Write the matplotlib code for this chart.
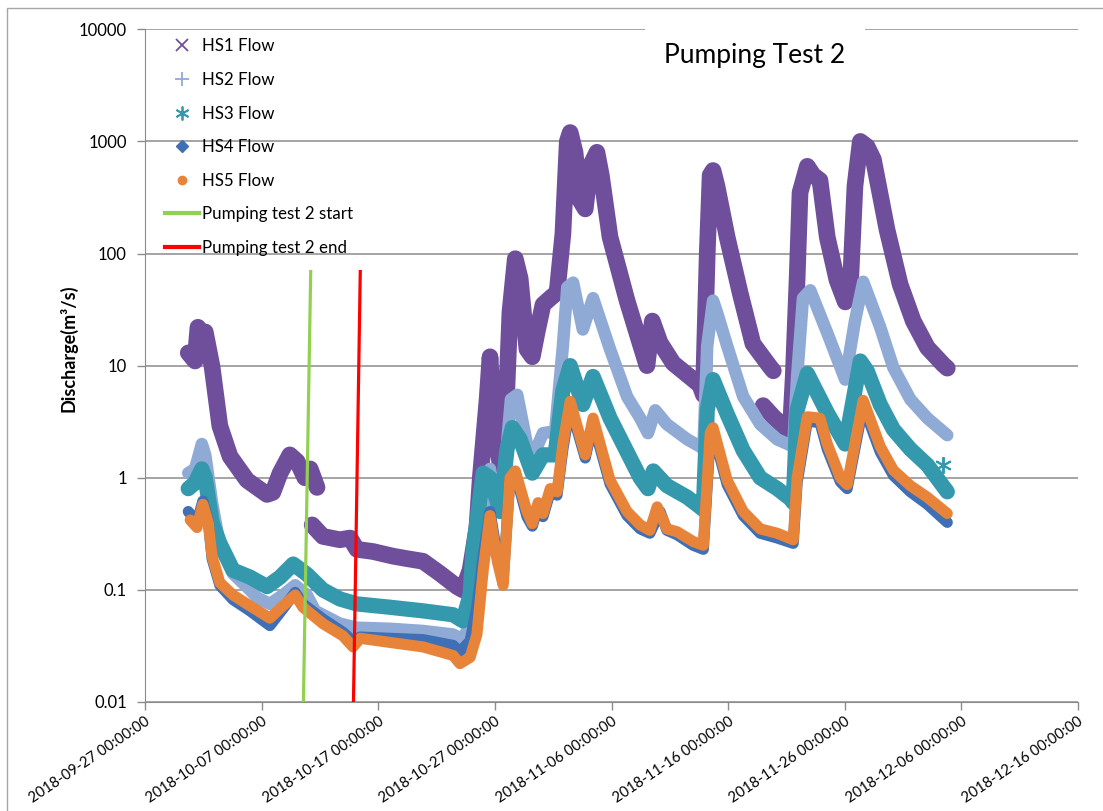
import matplotlib
matplotlib.use('Agg')
import matplotlib.pyplot as plt
from matplotlib.lines import Line2D
from matplotlib.patches import Rectangle
from matplotlib.ticker import FixedLocator, FixedFormatter, NullLocator
import pandas as pd

plt.rcParams['font.family'] = ['Lato', 'DejaVu Sans']

# ---- data (times are 2018, 'MM-DD HH') ----
hs1_a_time = ['09-30 17', '10-01 07', '10-01 13', '10-01 21', '10-02 04', '10-02 18', '10-03 10',
              '10-04 07', '10-05 18', '10-07 11', '10-07 23', '10-08 14', '10-09 10', '10-10 01',
              '10-10 17', '10-11 04', '10-11 18']
hs1_a_val = [13, 11, 22, 18, 20, 9.8, 2.9, 1.55, 0.95, 0.71, 0.74, 1.1, 1.6, 1.4, 1.0, 1.2, 0.82]

hs1_b_time = ['10-11 08', '10-12 06', '10-13 17', '10-14 14', '10-15 04', '10-16 13', '10-18 06',
              '10-19 11', '10-20 20', '10-22 07', '10-23 18', '10-24 06', '10-24 21', '10-25 11',
              '10-25 18', '10-26 08', '10-26 14', '10-26 22', '10-27 11', '10-27 19', '10-28 07',
              '10-28 18', '10-29 04', '10-29 18', '10-30 05', '10-30 15', '10-31 03', '10-31 18',
              '11-01 08', '11-01 20', '11-02 05', '11-02 11', '11-02 21', '11-03 07', '11-03 18',
              '11-04 04', '11-04 18', '11-05 03', '11-05 21', '11-07 08', '11-08 11', '11-09 01',
              '11-09 12', '11-10 04', '11-11 07', '11-12 12', '11-13 14', '11-13 21', '11-14 05',
              '11-14 11', '11-14 17', '11-15 01', '11-15 22', '11-17 01', '11-18 03', '11-19 14',
              '11-19 21']
hs1_b_val = [0.38, 0.30, 0.28, 0.29, 0.23, 0.22, 0.20, 0.19, 0.18, 0.14, 0.107, 0.10, 0.15, 0.36,
             1.0, 5, 12, 3, 1.3, 1.5, 30, 90, 60, 14, 12, 20, 35, 40, 45, 150, 1000, 1200, 800,
             300, 250, 600, 800, 500, 140, 38, 15.7, 10, 25, 16, 10.5, 8.3, 6.7, 5.5, 100, 500,
             550, 400, 140, 44, 15.7, 9.8, 9.0]

hs1_c_time = ['11-19 00', '11-19 21', '11-21 01', '11-21 08', '11-21 14', '11-21 22', '11-22 04',
              '11-22 19', '11-23 07', '11-23 21', '11-24 12', '11-25 08', '11-26 01', '11-26 11',
              '11-26 21', '11-27 08', '11-27 22', '11-28 11', '11-29 15', '11-30 18', '12-01 21',
              '12-03 02', '12-04 11', '12-04 19']
hs1_c_val = [4.4, 3.5, 2.7, 2.6, 8, 60, 350, 600, 500, 450, 140, 58, 37, 45, 400, 1000, 900, 690,
             163, 53, 25, 14.5, 10.2, 9.5]

hs2_time = ['09-30 17', '10-01 07', '10-01 21', '10-02 04', '10-02 18', '10-03 10', '10-04 13',
            '10-06 00', '10-06 15', '10-07 17', '10-08 20', '10-09 21', '10-10 21', '10-11 14',
            '10-13 17', '10-15 04', '10-18 00', '10-20 20', '10-23 10', '10-24 06', '10-24 21',
            '10-25 11', '10-26 00', '10-26 14', '10-26 22', '10-27 11', '10-28 01', '10-28 09',
            '10-28 22', '10-29 18', '10-30 05', '10-31 03', '11-01 04', '11-01 20', '11-02 05',
            '11-02 17', '11-03 13', '11-04 10', '11-05 21', '11-07 08', '11-08 11', '11-09 03',
            '11-09 18', '11-10 18', '11-12 12', '11-13 14', '11-13 21', '11-14 05', '11-14 17',
            '11-15 01', '11-15 22', '11-17 07', '11-18 18', '11-20 05', '11-21 14', '11-21 22',
            '11-22 10', '11-23 01', '11-24 12', '11-26 01', '11-26 21', '11-27 14', '11-29 01',
            '11-30 04', '12-01 15', '12-03 02', '12-04 19']
hs2_val = [1.1, 1.2, 2.0, 1.6, 0.6, 0.25, 0.14, 0.1, 0.085, 0.075, 0.09, 0.11, 0.09, 0.065, 0.05,
           0.046, 0.045, 0.043, 0.04, 0.036, 0.05, 0.1, 0.6, 1.2, 0.6, 0.5, 2, 5, 5.5, 2, 1.5, 2.5,
           2.6, 15, 50, 55, 21, 40, 14, 5.3, 3.4, 2.5, 4.0, 3.0, 2.2, 1.9, 1.8, 15, 38, 30, 15, 5.3,
           3.0, 2.2, 1.9, 8, 40, 47, 19.6, 7.5, 25, 56, 22, 9.6, 5.0, 3.4, 2.4]

hs3_time = ['09-30 17', '10-01 07', '10-01 21', '10-02 04', '10-02 18', '10-03 10', '10-04 13',
            '10-06 00', '10-07 11', '10-08 14', '10-09 17', '10-10 21', '10-12 06', '10-13 17',
            '10-15 04', '10-18 00', '10-20 20', '10-23 10', '10-24 06', '10-24 21', '10-25 03',
            '10-26 00', '10-26 14', '10-27 11', '10-28 01', '10-28 12', '10-29 04', '10-30 05',
            '10-31 03', '11-01 04', '11-01 20', '11-02 11', '11-03 13', '11-04 10', '11-05 21',
            '11-07 08', '11-08 11', '11-09 03', '11-09 14', '11-10 18', '11-12 12', '11-13 14',
            '11-13 21', '11-14 05', '11-14 17', '11-15 22', '11-17 07', '11-18 18', '11-20 05',
            '11-21 08', '11-21 14', '11-21 22', '11-22 19', '11-24 12', '11-26 01', '11-27 08',
            '11-27 22', '11-29 01', '11-30 04', '12-01 15', '12-03 02', '12-04 19']
hs3_val = [0.8, 0.9, 1.2, 1.0, 0.4, 0.26, 0.15, 0.13, 0.107, 0.13, 0.17, 0.138, 0.1, 0.083, 0.075,
           0.07, 0.065, 0.06, 0.053, 0.09, 0.22, 1.1, 1.0, 0.5, 1.8, 2.8, 2.2, 1.1, 1.6, 1.6, 6, 10,
           4.5, 8, 3.4, 1.7, 1.0, 0.8, 1.15, 0.85, 0.67, 0.55, 0.52, 4, 7.5, 3.7, 1.75, 1.0, 0.8,
           0.65, 0.6, 4, 8.5, 3.8, 2.0, 11, 9, 4.5, 2.7, 1.8, 1.3, 0.75]
hs3_extra_time = ['12-04 11']
hs3_extra_val = [1.3]

hs4_time = ['09-30 17', '10-01 11', '10-01 23', '10-02 10', '10-02 18', '10-03 10', '10-04 13',
            '10-06 00', '10-07 17', '10-08 20', '10-09 21', '10-10 13', '10-12 06', '10-13 23',
            '10-14 20', '10-15 11', '10-18 00', '10-20 20', '10-23 10', '10-24 00', '10-24 21',
            '10-25 11', '10-26 00', '10-26 14', '10-27 05', '10-27 17', '10-28 07', '10-28 18',
            '10-29 18', '10-30 05', '10-30 17', '10-31 03', '10-31 18', '11-01 08', '11-01 20',
            '11-02 11', '11-03 18', '11-04 10', '11-05 21', '11-07 08', '11-08 11', '11-09 07',
            '11-10 04', '11-10 18', '11-11 15', '11-13 00', '11-13 21', '11-14 11', '11-14 17',
            '11-15 22', '11-17 07', '11-18 18', '11-20 05', '11-21 14', '11-21 22', '11-22 19',
            '11-23 21', '11-24 12', '11-25 15', '11-26 05', '11-27 14', '11-29 01', '11-30 04',
            '12-01 15', '12-03 02', '12-04 19']
hs4_val = [0.5, 0.4, 0.62, 0.42, 0.19, 0.11, 0.082, 0.065, 0.048, 0.068, 0.095, 0.075, 0.055,
           0.042, 0.035, 0.038, 0.037, 0.036, 0.032, 0.028, 0.035, 0.07, 0.2, 0.5, 0.2, 0.12, 1.0,
           1.1, 0.45, 0.37, 0.55, 0.45, 0.75, 0.7, 1.8, 4.4, 1.5, 3.1, 0.88, 0.46, 0.35, 0.32, 0.5,
           0.34, 0.31, 0.25, 0.23, 2.3, 2.6, 0.87, 0.46, 0.32, 0.29, 0.26, 0.9, 3.2, 3.1, 1.8,
           0.92, 0.8, 4.4, 1.7, 1.05, 0.75, 0.58, 0.40]

hs5_time = ['09-30 21', '10-01 11', '10-01 23', '10-02 10', '10-02 18', '10-03 10', '10-04 13',
            '10-06 00', '10-07 17', '10-08 20', '10-09 21', '10-10 13', '10-12 06', '10-13 23',
            '10-14 20', '10-15 11', '10-18 00', '10-20 20', '10-23 10', '10-24 00', '10-24 21',
            '10-25 11', '10-26 00', '10-26 14', '10-27 05', '10-27 17', '10-28 07', '10-28 18',
            '10-29 18', '10-30 05', '10-30 17', '10-31 03', '10-31 18', '11-01 08', '11-01 20',
            '11-02 11', '11-03 18', '11-04 10', '11-05 21', '11-07 08', '11-08 11', '11-09 07',
            '11-09 22', '11-10 18', '11-11 15', '11-13 00', '11-13 21', '11-14 11', '11-14 17',
            '11-15 22', '11-17 07', '11-18 18', '11-20 05', '11-21 14', '11-21 22', '11-22 19',
            '11-23 21', '11-24 12', '11-25 15', '11-26 05', '11-27 14', '11-29 01', '11-30 04',
            '12-01 15', '12-03 02', '12-04 19']
hs5_val = [0.42, 0.36, 0.58, 0.4, 0.2, 0.116, 0.09, 0.072, 0.056, 0.072, 0.09, 0.07, 0.05, 0.039,
           0.031, 0.037, 0.034, 0.031, 0.026, 0.022, 0.025, 0.04, 0.15, 0.46, 0.18, 0.11, 1.0,
           1.15, 0.5, 0.39, 0.6, 0.48, 0.8, 0.75, 2.0, 4.8, 1.6, 3.4, 0.95, 0.5, 0.38, 0.34, 0.55,
           0.35, 0.33, 0.27, 0.25, 2.5, 2.8, 0.95, 0.5, 0.35, 0.32, 0.28, 1.0, 3.5, 3.4, 2.0, 1.0,
           0.87, 4.9, 1.9, 1.17, 0.85, 0.67, 0.48]

pump_start_time = ['10-11 05', '10-10 14']
pump_end_time = ['10-15 11', '10-14 21']
pump_val = [69, 0.01]

y_ticks = [0.01, 0.1, 1, 10, 100, 1000, 10000]
y_labels = ['0.01', '0.1', '1', '10', '100', '1000', '10000']
x_ticks = pd.date_range('2018-09-27', '2018-12-16', freq='10D')

C1 = '#6f4f9c'
C2 = '#90aad6'
C3 = '#3499ad'
C4 = '#3f6fb5'
C5 = '#e8843a'


def t(lst):
    return pd.to_datetime(['2018-' + s for s in lst], format='%Y-%m-%d %H')


fig = plt.figure(figsize=(11.03, 8.11), dpi=100)
ax = fig.add_axes([145 / 1103, 109 / 811, 933 / 1103, 672.7 / 811])

band = dict(solid_joinstyle='round', solid_capstyle='round')
for tt, vv in [(hs1_a_time, hs1_a_val), (hs1_b_time, hs1_b_val), (hs1_c_time, hs1_c_val)]:
    ax.plot(t(tt), vv, color=C1, lw=12, zorder=2, **band)
ax.plot(t(hs2_time), hs2_val, color=C2, lw=9, zorder=3, **band)
ax.plot(t(hs3_time), hs3_val, color=C3, lw=11, zorder=4, **band)
ax.plot(t(hs3_extra_time), hs3_extra_val, ls='none', marker=(6, 2, 0), ms=12, mew=1.4,
        color=C3, zorder=4)
ax.plot(t(hs4_time), hs4_val, color=C4, lw=8, zorder=5, **band)
ax.plot(t(hs5_time), hs5_val, color=C5, lw=8, zorder=6, **band)

ax.plot(t(pump_start_time), pump_val, color='#92d050', lw=2.3, zorder=7)
ax.plot(t(pump_end_time), pump_val, color='#ff0000', lw=2.3, zorder=7)

ax.set_yscale('log')
ax.set_ylim(0.01, 10000)
ax.yaxis.set_major_locator(FixedLocator(y_ticks))
ax.yaxis.set_major_formatter(FixedFormatter(y_labels))
ax.yaxis.set_minor_locator(NullLocator())
ax.set_xlim(pd.Timestamp('2018-09-27'), pd.Timestamp('2018-12-16'))
ax.set_xticks(x_ticks)
ax.set_xticklabels([d.strftime('%Y-%m-%d %H:%M:%S') for d in x_ticks])
ax.xaxis.set_minor_locator(NullLocator())

ax.grid(axis='y', color='#8c8c8c', lw=1.1, zorder=0)
ax.set_axisbelow(True)
for s in ['top', 'right']:
    ax.spines[s].set_visible(False)
for s in ['left', 'bottom']:
    ax.spines[s].set_color('#8c8c8c')
ax.tick_params(axis='both', color='#8c8c8c', length=6, width=1)
ax.tick_params(axis='y', labelsize=12, pad=7)
ax.tick_params(axis='x', labelsize=10.6, pad=3)
plt.setp(ax.get_xticklabels(), rotation=34, ha='right', va='top', rotation_mode='anchor')

fig.text(68 / 1103, 1 - 348 / 811, 'Discharge(m³/s)', rotation=90, ha='center', va='center',
         fontweight='bold', fontsize=13)

ax.text(755 / 933 - 145 / 933, 1 - 26 / 672.7, 'Pumping Test 2', transform=ax.transAxes,
        ha='center', va='center', fontsize=19, zorder=8,
        bbox=dict(boxstyle='square,pad=0.75', facecolor='white', edgecolor='none'))

handles = [
    Line2D([], [], ls='none', marker='x', ms=9, mew=1.3, color=C1, label='HS1 Flow'),
    Line2D([], [], ls='none', marker='+', ms=10, mew=1.3, color=C2, label='HS2 Flow'),
    Line2D([], [], ls='none', marker=(6, 2, 0), ms=10, mew=1.3, color=C3, label='HS3 Flow'),
    Line2D([], [], ls='none', marker='D', ms=6, color=C4, label='HS4 Flow'),
    Line2D([], [], ls='none', marker='o', ms=6, color=C5, label='HS5 Flow'),
    Line2D([], [], color='#92d050', lw=3, label='Pumping test 2 start'),
    Line2D([], [], color='#ff0000', lw=3, label='Pumping test 2 end'),
]
ax.legend(handles=handles, loc='upper left', bbox_to_anchor=(20 / 933, 1 - 9 / 672.7),
          frameon=False, fontsize=12.2, handlelength=2.0, handletextpad=0.2,
          labelspacing=1.04, borderpad=0, borderaxespad=0)

fig.patches.append(Rectangle((7 / 1103, -0.05), 1.2, 1.05 - 8 / 811, transform=fig.transFigure,
                             fill=False, edgecolor='#a6a6a6', lw=1))

fig.savefig('out.png', dpi=100)
